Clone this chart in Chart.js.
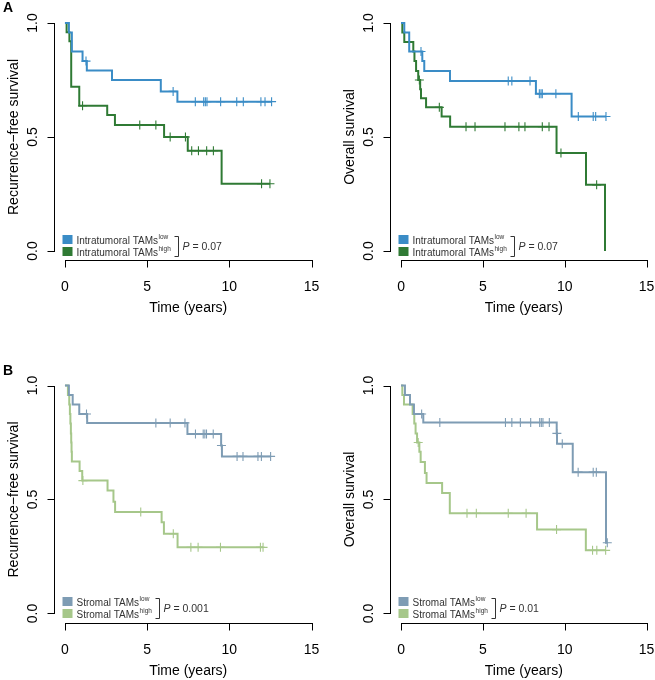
<!DOCTYPE html>
<html>
<head>
<meta charset="utf-8">
<script src="https://cdn.jsdelivr.net/npm/chart.js@4.4.1/dist/chart.umd.min.js"></script>
<style>
  html, body { margin: 0; padding: 0; background: #fff; overflow: hidden; }
  #wrap { position: relative; width: 655px; height: 680px; overflow: hidden; }
  canvas { position: absolute; }
</style>
</head>
<body>
<div id="wrap">
  <canvas id="aRfs" width="327" height="340" style="left:0;top:0"></canvas>
  <canvas id="aOs" width="335" height="340" style="left:327px;top:0"></canvas>
  <canvas id="bRfs" width="327" height="340" style="left:0;top:340px"></canvas>
  <canvas id="bOs" width="335" height="340" style="left:327px;top:340px"></canvas>
</div>
<script>
// axes
const xTicks = [0, 5, 10, 15];
const yTicks = [0, 0.5, 1];
const yTickLabels = ['0.0', '0.5', '1.0'];

// A: intratumoral TAMs, recurrence-free survival
const aRfsLowT = [0, 0.24, 0.42, 1.07, 1.33, 2.86, 5.83, 6.84, 12.57];
const aRfsLowS = [1, 0.958, 0.875, 0.833, 0.792, 0.75, 0.70, 0.655, 0.655];
const aRfsLowC = [1.28, 6.58, 7.93, 8.44, 8.54, 8.64, 9.47, 10.45, 10.85, 11.92, 12.17, 12.57];
const aRfsHighT = [0, 0.1, 0.27, 0.38, 0.87, 2.57, 3.04, 6.03, 7.47, 9.53, 12.47];
const aRfsHighS = [1, 0.96, 0.92, 0.72, 0.637, 0.596, 0.553, 0.50, 0.44, 0.295, 0.295];
const aRfsHighC = [1.07, 4.55, 5.53, 6.4, 7.33, 7.71, 8.12, 8.62, 9.03, 11.96, 12.47];

// A: intratumoral TAMs, overall survival
const aOsLowT = [0, 0.2, 0.5, 1.3, 1.42, 2.99, 8.24, 10.42, 12.52];
const aOsLowS = [1, 0.958, 0.875, 0.833, 0.79, 0.746, 0.69, 0.59, 0.59];
const aOsLowC = [1.22, 6.55, 6.77, 7.88, 8.45, 8.55, 8.63, 9.46, 10.83, 11.74, 11.89, 12.52];
const aOsHighT = [0, 0.08, 0.2, 0.75, 0.82, 0.92, 1.05, 1.17, 1.22, 1.53, 2.48, 3.0, 9.5, 11.3, 12.46];
const aOsHighS = [1, 0.958, 0.917, 0.875, 0.833, 0.79, 0.75, 0.71, 0.67, 0.63, 0.59, 0.545, 0.43, 0.29, 0];
const aOsHighC = [1.12, 2.34, 3.97, 4.52, 6.35, 7.2, 7.57, 8.63, 9.04, 9.77, 11.95];

// B: stromal TAMs, recurrence-free survival
const bRfsLowT = [0, 0.24, 0.47, 0.87, 1.35, 7.45, 9.5, 9.55, 12.51];
const bRfsLowS = [1, 0.958, 0.917, 0.875, 0.836, 0.787, 0.737, 0.689, 0.689];
const bRfsLowC = [1.31, 5.53, 6.4, 7.3, 7.94, 8.41, 8.51, 8.61, 9.02, 9.52, 10.47, 10.83, 11.74, 11.95, 12.51];
const bRfsHighT = [0, 0.18, 0.26, 0.3, 0.33, 0.36, 0.38, 0.4, 0.42, 0.89, 1.05, 2.59, 2.95, 3.05, 5.88, 6.02, 6.85, 12.05];
const bRfsHighS = [1, 0.958, 0.917, 0.875, 0.833, 0.79, 0.75, 0.71, 0.667, 0.625, 0.583, 0.54, 0.49, 0.445, 0.40, 0.35, 0.29, 0.29];
const bRfsHighC = [1.09, 4.61, 6.59, 7.66, 8.1, 9.46, 11.89, 12.05];

// B: stromal TAMs, overall survival
const bOsLowT = [0, 0.24, 0.55, 0.79, 1.36, 9.51, 9.53, 10.49, 12.52, 12.6];
const bOsLowS = [1, 0.958, 0.917, 0.875, 0.838, 0.79, 0.745, 0.62, 0.31, 0.31];
const bOsLowC = [1.26, 2.37, 6.38, 6.77, 7.29, 7.92, 8.47, 8.57, 8.67, 9.06, 9.52, 9.85, 10.82, 11.74, 11.93, 12.6];
const bOsHighT = [0, 0.08, 0.18, 0.71, 0.81, 0.89, 0.98, 1.12, 1.2, 1.46, 1.56, 2.51, 2.98, 8.31, 11.29, 12.5];
const bOsHighS = [1, 0.958, 0.917, 0.875, 0.833, 0.79, 0.75, 0.71, 0.665, 0.616, 0.572, 0.528, 0.44, 0.368, 0.277, 0.277];
const bOsHighC = [1.05, 4.03, 4.6, 6.55, 7.64, 9.5, 11.7, 11.96, 12.5];

const FONT = '"Liberation Sans", Arial, Helvetica, sans-serif';

// survival value of the step curve at time c
function survAt(T, S, c) {
  let s = S[0];
  for (let i = 0; i < T.length; i++) if (T[i] <= c) s = S[i];
  return s;
}

function curve(T, S, color) {
  return {
    data: T.map((t, i) => ({ x: t, y: S[i] })),
    borderColor: color, borderWidth: 2, pointRadius: 0,
    stepped: true, fill: false
  };
}

function censors(T, S, C, color) {
  return {
    data: C.map(c => ({ x: c, y: survAt(T, S, c) })),
    showLine: false, borderColor: color, borderWidth: 1.1,
    pointStyle: 'cross', pointRadius: 4.5, pointHoverRadius: 4.5
  };
}

// draws R-style axes, titles and the legend
const rStyle = {
  id: 'rStyle',
  afterDraw(chart, args, o) {
    const ctx = chart.ctx, xs = chart.scales.x, ys = chart.scales.y;
    const ax = Math.round(chart.chartArea.left) - 0.5;
    const ay = Math.round(chart.chartArea.bottom) + 0.5;
    ctx.save();
    ctx.strokeStyle = '#000';
    ctx.fillStyle = '#000';
    ctx.lineWidth = 1;

    ctx.beginPath();
    const xa = xs.getPixelForValue(xTicks[0]), xb = xs.getPixelForValue(xTicks[xTicks.length - 1]);
    ctx.moveTo(Math.round(xa), ay); ctx.lineTo(Math.round(xb) + 1, ay);
    xTicks.forEach(v => {
      const p = Math.round(xs.getPixelForValue(v)) + 0.5;
      ctx.moveTo(p, ay); ctx.lineTo(p, ay + 7);
    });
    const ya = ys.getPixelForValue(yTicks[0]), yb = ys.getPixelForValue(yTicks[yTicks.length - 1]);
    ctx.moveTo(ax, Math.round(ya) + 1); ctx.lineTo(ax, Math.round(yb));
    yTicks.forEach(v => {
      const p = Math.round(ys.getPixelForValue(v)) + 0.5;
      ctx.moveTo(ax, p); ctx.lineTo(ax - 7, p);
    });
    ctx.stroke();

    // tick labels
    ctx.font = '14px ' + FONT;
    ctx.textAlign = 'center';
    ctx.textBaseline = 'alphabetic';
    xTicks.forEach(v => ctx.fillText(String(v), xs.getPixelForValue(v), ay + 30));
    yTicks.forEach((v, i) => {
      ctx.save();
      ctx.translate(ax - 18, ys.getPixelForValue(v));
      ctx.rotate(-Math.PI / 2);
      ctx.fillText(yTickLabels[i], 0, 0);
      ctx.restore();
    });

    // axis titles
    ctx.font = '14px ' + FONT;
    ctx.fillText('Time (years)', (xa + xb) / 2, ay + 51);
    ctx.save();
    ctx.translate(ax - 37, (chart.chartArea.top + chart.chartArea.bottom) / 2);
    ctx.rotate(-Math.PI / 2);
    ctx.fillText(o.yTitle, 0, 0);
    ctx.restore();

    // legend
    const y0 = Math.round(ya);
    const bx = ax + 8, tx = ax + 22;
    const rows = [{ c: o.colors[0], sup: 'low', y: y0 - 7 }, { c: o.colors[1], sup: 'high', y: y0 + 5 }];
    let maxW = 0;
    ctx.textAlign = 'left';
    rows.forEach(r => {
      ctx.fillStyle = r.c;
      ctx.fillRect(bx, r.y - 9, 10, 9);
      ctx.fillStyle = '#333';
      ctx.font = '10px ' + FONT;
      ctx.fillText(o.group, tx, r.y);
      const w = ctx.measureText(o.group).width;
      ctx.font = '6.5px ' + FONT;
      ctx.fillText(r.sup, tx + w + 0.5, r.y - 5);
      maxW = Math.max(maxW, w + 0.5 + ctx.measureText(r.sup).width);
    });
    const kx = Math.round(tx + maxW + 7) + 0.5;
    ctx.strokeStyle = '#333';
    ctx.beginPath();
    ctx.moveTo(kx - 4, y0 - 14.5); ctx.lineTo(kx, y0 - 14.5);
    ctx.lineTo(kx, y0 + 5.5); ctx.lineTo(kx - 4, y0 + 5.5);
    ctx.stroke();
    ctx.fillStyle = '#333';
    ctx.font = 'italic 10.5px ' + FONT;
    ctx.fillText('P', kx + 4, y0 - 1);
    const pw = ctx.measureText('P').width;
    ctx.font = '10.5px ' + FONT;
    ctx.fillText(' = ' + o.p, kx + 4 + pw, y0 - 1);

    if (o.letter) {
      ctx.fillStyle = '#000';
      ctx.font = 'bold 14px ' + FONT;
      ctx.fillText(o.letter, 3, o.letterY);
    }
    ctx.restore();
  }
};

function panel(id, pad, lowT, lowS, lowC, highT, highS, highC, opts) {
  new Chart(document.getElementById(id), {
    type: 'line',
    data: {
      datasets: [
        curve(lowT, lowS, opts.colors[0]),
        censors(lowT, lowS, lowC, opts.colors[0]),
        curve(highT, highS, opts.colors[1]),
        censors(highT, highS, highC, opts.colors[1])
      ]
    },
    options: {
      responsive: false,
      animation: false,
      events: [],
      layout: { padding: pad },
      scales: {
        x: { type: 'linear', min: -0.6, max: 15.6, display: false },
        y: { type: 'linear', min: -0.04, max: 1.04, display: false }
      },
      plugins: {
        legend: { display: false },
        tooltip: { enabled: false },
        rStyle: opts
      }
    },
    plugins: [rStyle]
  });
}

const colA = ['#3a8cc6', '#2f7a34'];
const colB = ['#7e9cb4', '#a6c78a'];

panel('aRfs', { left: 55.1, right: 5.1, top: 13.9, bottom: 79.9 },
  aRfsLowT, aRfsLowS, aRfsLowC, aRfsHighT, aRfsHighS, aRfsHighC,
  { colors: colA, group: 'Intratumoral TAMs', p: '0.07', yTitle: 'Recurrence\u2212free survival', letter: 'A', letterY: 12 });
panel('aOs', { left: 64.2, right: 5.2, top: 13.9, bottom: 79.9 },
  aOsLowT, aOsLowS, aOsLowC, aOsHighT, aOsHighS, aOsHighC,
  { colors: colA, group: 'Intratumoral TAMs', p: '0.07', yTitle: 'Overall survival' });
panel('bRfs', { left: 55.1, right: 5.1, top: 36.4, bottom: 57.4 },
  bRfsLowT, bRfsLowS, bRfsLowC, bRfsHighT, bRfsHighS, bRfsHighC,
  { colors: colB, group: 'Stromal TAMs', p: '0.001', yTitle: 'Recurrence\u2212free survival', letter: 'B', letterY: 35 });
panel('bOs', { left: 64.2, right: 5.2, top: 36.4, bottom: 57.4 },
  bOsLowT, bOsLowS, bOsLowC, bOsHighT, bOsHighS, bOsHighC,
  { colors: colB, group: 'Stromal TAMs', p: '0.01', yTitle: 'Overall survival' });
</script>
</body>
</html>
